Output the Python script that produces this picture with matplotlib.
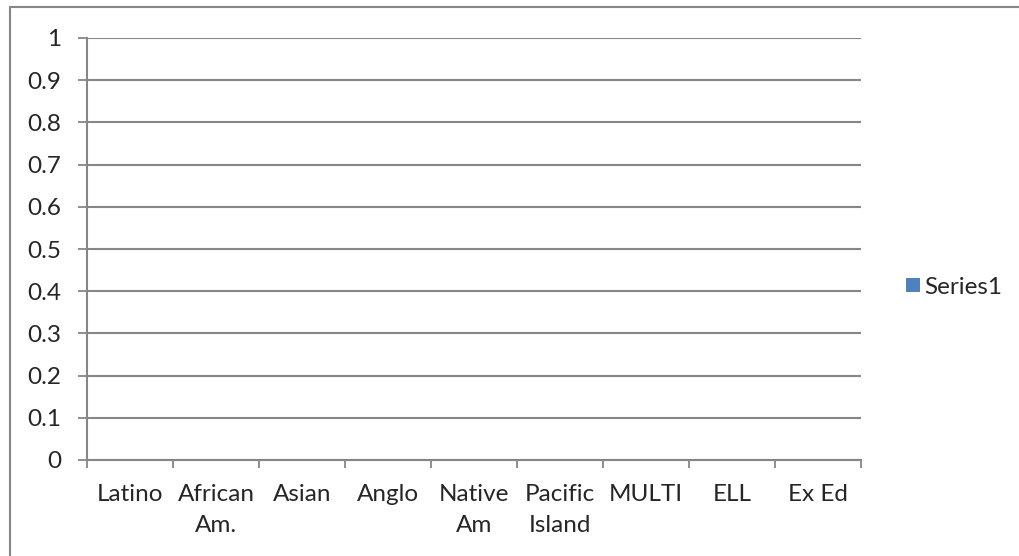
import numpy as np
import matplotlib
matplotlib.use("Agg")
import matplotlib.pyplot as plt
from matplotlib.patches import Rectangle

plt.rcParams['font.family'] = ['Lato', 'DejaVu Sans']

categories = ["Latino", "African\nAm.", "Asian", "Anglo", "Native\nAm",
              "Pacific\nIsland", "MULTI", "ELL", "Ex Ed"]
values = [0, 0, 0, 0, 0, 0, 0, 0, 0]   # chart shows no bars
yticks = [0, 0.1, 0.2, 0.3, 0.4, 0.5, 0.6, 0.7, 0.8, 0.9, 1]
ytick_labels = ["0", "0.1", "0.2", "0.3", "0.4", "0.5", "0.6", "0.7", "0.8", "0.9", "1"]

grey = "#868686"
txt = "#262626"
fs = 17.5

fig = plt.figure(figsize=(10.19, 5.56), dpi=100)
# outer chart border (right/bottom cut off in the image)
fig.patches.append(Rectangle((10 / 1019, -0.05), 1.2, 1 - 7 / 556 + 0.05,
                             transform=fig.transFigure, fill=False,
                             edgecolor=grey, linewidth=1.5))

ax = fig.add_axes([87 / 1019, 1 - 460 / 556, (861 - 87) / 1019, (460 - 38) / 556])
x = np.arange(len(categories)) + 0.5
bars = ax.bar(x, values, width=0.6, color="#4F81BD", linewidth=0, label="Series1")

ax.set_xlim(0, len(categories))
ax.set_ylim(0, 1)
ax.set_yticks(yticks)
ax.set_yticklabels(ytick_labels, fontsize=fs, color=txt)
ax.yaxis.grid(True, color=grey, linewidth=1.5)
ax.set_axisbelow(True)

ax.set_xticks(np.arange(len(categories) + 1))
ax.set_xticklabels([])
ax.set_xticks(x, minor=True)
ax.set_xticklabels(categories, minor=True, fontsize=fs, color=txt, linespacing=1.6)
ax.tick_params(axis="x", which="major", length=5.5, width=1.3, color=grey, direction="out")
ax.tick_params(axis="x", which="minor", length=0, pad=17)
ax.tick_params(axis="y", length=6.5, width=1.3, color=grey, pad=12)

for s in ["top", "right"]:
    ax.spines[s].set_visible(False)
for s in ["left", "bottom"]:
    ax.spines[s].set_color(grey)
    ax.spines[s].set_linewidth(1.5)

fig.legend(handles=[bars], labels=["Series1"], loc="center left",
           bbox_to_anchor=(0.868, 1 - 287 / 556), frameon=False,
           fontsize=fs, handlelength=0.55, handleheight=0.55,
           handletextpad=0.2, labelcolor=txt)

fig.savefig("out.png", dpi=100)
